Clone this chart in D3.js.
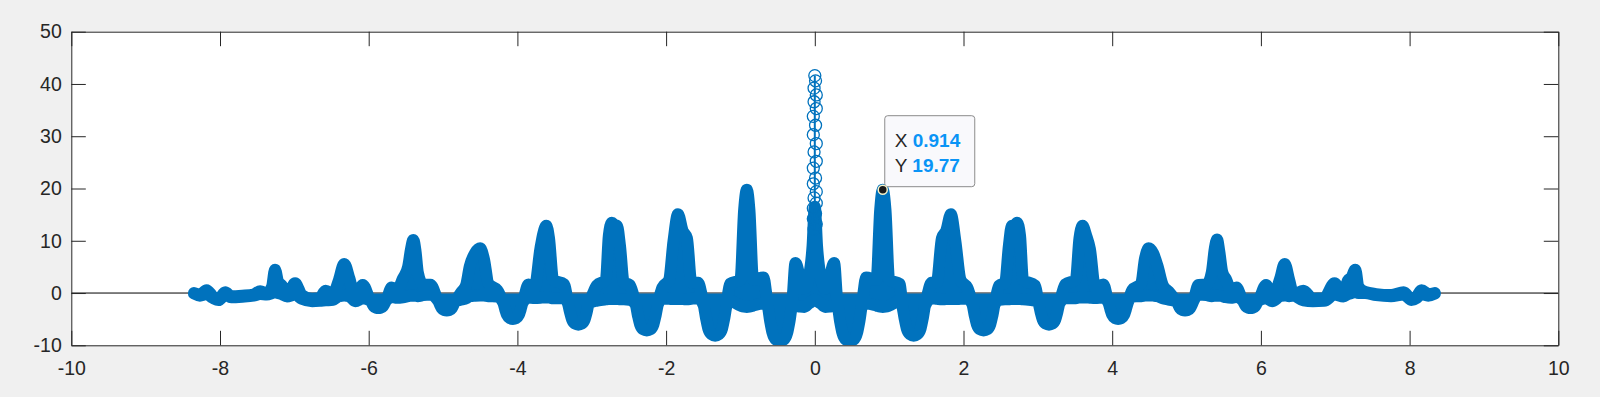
<!DOCTYPE html>
<html>
<head>
<meta charset="utf-8">
<script src="https://cdn.jsdelivr.net/npm/d3@7"></script>
<style>
  body { margin: 0; background: #f0f0f0; }
  svg { display: block; font-family: "Liberation Sans", Arial, Helvetica, sans-serif; }
</style>
</head>
<body>
<div id="chart"></div>
<script>
// tick values
const xTicks = [-10, -8, -6, -4, -2, 0, 2, 4, 6, 8, 10];
const yTicks = [-10, 0, 10, 20, 30, 40, 50];

// envelope of the marker cloud (marker centres).
// one line per stretch of the curve, same count in all three arrays
const knotX = [
  -8.35, -8.27, -8.18, -8.10, -8.02, -7.93, -7.85, -7.70, -7.55, -7.46, -7.37, -7.30, -7.26, -7.22, -7.17, -7.10, -6.99,
  -6.90, -6.76, -6.66, -6.58, -6.48, -6.40, -6.33, -6.26, -6.18, -6.08,
  -5.97, -5.95, -5.93, -5.903, -5.87, -5.837, -5.81, -5.79, -5.77,
  -5.69, -5.62, -5.54, -5.47, -5.43, -5.40, -5.37, -5.34, -5.27, -5.17,
  -5.06, -5.038, -5.016, -4.986, -4.95, -4.914, -4.884, -4.862, -4.84,
  -4.75, -4.69, -4.64, -4.57, -4.50, -4.45, -4.39, -4.27,
  -4.19, -4.164, -4.138, -4.103, -4.06, -4.017, -3.982, -3.956, -3.93,
  -3.85, -3.77, -3.69, -3.65, -3.61, -3.575, -3.52, -3.37,
  -3.32, -3.292, -3.264, -3.226, -3.18, -3.134, -3.096, -3.068, -3.04,
  -2.93, -2.81, -2.77, -2.73, -2.69, -2.66, -2.62, -2.57, -2.49,
  -2.41, -2.38, -2.35, -2.31, -2.26, -2.21, -2.17, -2.14, -2.11,
  -2.05, -1.96, -1.90, -1.84, -1.78, -1.72, -1.66, -1.57,
  -1.495, -1.464, -1.433, -1.389, -1.34, -1.291, -1.247, -1.216, -1.185,
  -1.14, -1.00, -0.95, -0.914, -0.88, -0.83, -0.69,
  -0.635, -0.602, -0.569, -0.524, -0.47, -0.416, -0.371, -0.338, -0.305,
  -0.26, -0.20, -0.14, -0.08, -0.03, 0.00, 0.03, 0.08, 0.14, 0.20, 0.26,
  0.305, 0.338, 0.371, 0.416, 0.47, 0.524, 0.569, 0.602, 0.635,
  0.69, 0.83, 0.88, 0.914, 0.95, 1.00, 1.14,
  1.175, 1.206, 1.237, 1.281, 1.33, 1.379, 1.423, 1.454, 1.485,
  1.57, 1.64, 1.71, 1.77, 1.83, 1.89, 1.96, 2.05,
  2.12, 2.15, 2.18, 2.22, 2.27, 2.32, 2.36, 2.39, 2.42,
  2.48, 2.56, 2.61, 2.65, 2.69, 2.72, 2.76, 2.80, 2.96,
  3.01, 3.038, 3.066, 3.104, 3.15, 3.196, 3.234, 3.262, 3.29,
  3.37, 3.51, 3.56, 3.60, 3.65, 3.70, 3.77, 3.88,
  3.95, 3.976, 4.002, 4.037, 4.08, 4.123, 4.158, 4.184, 4.21,
  4.27, 4.39, 4.44, 4.49, 4.55, 4.61, 4.68, 4.76,
  4.87, 4.892, 4.914, 4.944, 4.98, 5.016, 5.046, 5.068, 5.09,
  5.16, 5.27, 5.34, 5.38, 5.41, 5.44, 5.48, 5.53, 5.60, 5.67,
  5.76, 5.78, 5.80, 5.827, 5.86, 5.893, 5.92, 5.94, 5.96,
  6.07, 6.15, 6.26, 6.32, 6.38, 6.44, 6.57, 6.70, 6.85, 6.99,
  7.11, 7.17, 7.22, 7.27, 7.31, 7.40, 7.55, 7.75, 7.92, 8.03, 8.10, 8.16, 8.25, 8.34
];
const upperY = [
  0.0, -0.3, 0.55, -0.6, -1.2, 0.15, -0.6, -0.5, -0.3, 0.35, -0.1, 1.2, 4.45, 2.2, 1.45, -0.6, 1.85,
  -0.4, -1.1, -1.0, 0.45, -0.2, 2.5, 5.55, 2.8, -1.2, 1.55,
  -1.25, -1.25, -1.25, -1.25, -1.25, -1.25, -1.25, -1.25, -1.25,
  1.05, 0.5, 2.75, 5.0, 8.5, 10.15, 8.0, 4.0, 1.6, 1.6,
  -1.25, -1.25, -1.25, -1.25, -1.25, -1.25, -1.25, -1.25, -1.25,
  0.25, 1.5, 5.15, 7.6, 8.55, 6.5, 1.8, 0.55,
  -1.25, -1.25, -1.25, -1.25, -1.25, -1.25, -1.25, -1.25, -1.25,
  1.65, 1.0, 8.55, 11.5, 12.85, 10.5, 2.5, 1.65,
  -1.25, -1.25, -1.25, -1.25, -1.25, -1.25, -1.25, -1.25, -1.25,
  1.45, 2.5, 11.0, 13.45, 13.0, 12.85, 9.0, 2.0, 1.55,
  -1.25, -1.25, -1.25, -1.25, -1.25, -1.25, -1.25, -1.25, -1.25,
  1.05, 2.5, 10.0, 15.05, 12.0, 10.5, 2.0, 1.95,
  -1.25, -1.25, -1.25, -1.25, -1.25, -1.25, -1.25, -1.25, -1.25,
  1.75, 2.5, 16.0, 19.77, 16.0, 2.5, 2.95,
  -1.25, -1.25, -1.25, -1.25, -1.25, -1.25, -1.25, -1.25, -1.25,
  5.75, 3.0, 0.8, 3.0, 9.0, 16.5, 9.0, 3.0, 0.8, 3.0, 5.75,
  -1.25, -1.25, -1.25, -1.25, -1.25, -1.25, -1.25, -1.25, -1.25,
  2.95, 2.5, 16.0, 19.77, 16.0, 2.5, 1.75,
  -1.25, -1.25, -1.25, -1.25, -1.25, -1.25, -1.25, -1.25, -1.25,
  1.95, 2.0, 10.5, 12.0, 15.05, 10.0, 2.5, 1.05,
  -1.25, -1.25, -1.25, -1.25, -1.25, -1.25, -1.25, -1.25, -1.25,
  1.45, 2.0, 9.0, 12.85, 13.0, 13.45, 11.0, 2.5, 1.45,
  -1.25, -1.25, -1.25, -1.25, -1.25, -1.25, -1.25, -1.25, -1.25,
  1.65, 2.5, 10.5, 12.85, 11.0, 8.45, 1.0, 1.65,
  -1.25, -1.25, -1.25, -1.25, -1.25, -1.25, -1.25, -1.25, -1.25,
  0.55, 1.8, 6.5, 8.55, 7.6, 5.15, 1.5, 0.25,
  -1.25, -1.25, -1.25, -1.25, -1.25, -1.25, -1.25, -1.25, -1.25,
  1.55, 1.6, 4.0, 8.5, 10.25, 8.0, 4.0, 2.65, 0.5, 1.05,
  -1.25, -1.25, -1.25, -1.25, -1.25, -1.25, -1.25, -1.25, -1.25,
  1.55, -1.2, 2.8, 5.55, 2.5, -0.3, 0.45, -1.1, -1.0, 1.85,
  -0.6, 2.35, 3.0, 4.45, 1.2, 0.2, -0.2, -0.4, 0.15, -1.3, -0.6, 0.55, -0.2, 0.0
];
const lowerY = [
  -0.1, -0.5, -0.2, -0.9, -1.35, -0.3, -0.8, -0.7, -0.5, -0.2, -0.3, 0.0, 0.2, 0.0, -0.2, -0.65, -0.3,
  -1.1, -1.55, -1.5, -1.4, -1.3, -0.6, -0.45, -0.6, -1.55, -1.0,
  -1.53, -2.08, -2.54, -2.79, -2.85, -2.79, -2.54, -2.08, -1.53,
  -0.75, -0.9, -0.8, -0.6, -0.5, -0.5, -0.5, -0.6, -0.4, -0.3,
  -1.61, -2.33, -2.94, -3.27, -3.35, -3.27, -2.94, -2.33, -1.61,
  -1.25, -1.0, -0.6, -0.5, -0.45, -0.5, -0.6, -0.65,
  -1.85, -3.13, -4.22, -4.8, -4.95, -4.8, -4.22, -3.13, -1.85,
  -0.85, -0.95, -0.9, -0.85, -0.85, -0.85, -1.0, -1.0,
  -2.01, -3.68, -5.1, -5.86, -6.05, -5.86, -5.1, -3.68, -2.01,
  -1.45, -1.2, -1.15, -1.15, -1.15, -1.15, -1.2, -1.2, -1.3,
  -2.18, -4.23, -5.98, -6.92, -7.15, -6.92, -5.98, -4.23, -2.18,
  -1.05, -1.1, -1.15, -1.15, -1.15, -1.2, -1.1, -1.0,
  -2.33, -4.73, -6.78, -7.88, -8.15, -7.88, -6.78, -4.73, -2.33,
  -1.5, -2.4, -2.6, -2.65, -2.6, -2.4, -2.0,
  -2.5, -5.25, -7.6, -8.9, -9.2, -8.9, -7.6, -5.25, -2.5,
  -2.5, -2.6, -2.65, -2.0, -1.5, -1.2, -1.5, -2.0, -2.65, -2.6, -2.5,
  -2.5, -5.25, -7.6, -8.9, -9.2, -8.9, -7.6, -5.25, -2.5,
  -2.0, -2.4, -2.6, -2.65, -2.6, -2.4, -1.5,
  -2.33, -4.73, -6.78, -7.88, -8.15, -7.88, -6.78, -4.73, -2.33,
  -1.0, -1.1, -1.2, -1.15, -1.15, -1.15, -1.1, -1.05,
  -2.18, -4.23, -5.98, -6.92, -7.15, -6.92, -5.98, -4.23, -2.18,
  -1.3, -1.2, -1.2, -1.15, -1.15, -1.15, -1.15, -1.2, -1.45,
  -2.01, -3.68, -5.1, -5.86, -6.05, -5.86, -5.1, -3.68, -2.01,
  -1.0, -1.0, -0.85, -0.85, -0.85, -0.9, -0.95, -0.85,
  -1.85, -3.13, -4.22, -4.8, -4.95, -4.8, -4.22, -3.13, -1.85,
  -0.65, -0.6, -0.5, -0.45, -0.5, -0.6, -1.0, -1.25,
  -1.61, -2.33, -2.94, -3.27, -3.35, -3.27, -2.94, -2.33, -1.61,
  -0.3, -0.4, -0.6, -0.5, -0.5, -0.5, -0.6, -0.8, -0.9, -0.75,
  -1.53, -2.08, -2.54, -2.79, -2.85, -2.79, -2.54, -2.08, -1.53,
  -1.0, -1.55, -0.6, -0.45, -0.6, -0.5, -1.4, -1.55, -1.5, -0.3,
  -0.65, -0.2, 0.0, 0.2, 0.0, 0.0, -0.4, -0.6, -0.3, -1.35, -0.9, -0.2, -0.5, -0.1
];

// single open circles that climb the central spike
const spikeX = [0.0, 0.01, -0.01, 0.02, -0.01, 0.02, -0.02, 0.01, -0.02, 0.02, -0.01, 0.02,
  -0.02, 0.01, -0.02, 0.02, -0.01, 0.02, -0.02, 0.01, -0.02, 0.02, -0.01];
const spikeY = [41.6, 40.6, 39.2, 37.9, 36.6, 35.3, 33.8, 32.1, 30.3, 28.6, 27.0, 25.2,
  23.9, 22.0, 20.9, 19.4, 18.2, 17.2, 16.2, 15.2, 14.2, 13.2, 12.2];

// data tip
const tipX = 0.914;
const tipY = 19.77;

const width = 1600;
const height = 397;
const margin = { top: 31.7, right: 41.7, bottom: 51.7, left: 71.3 };
const blue = "#0072BD";
const axisColor = "#262626";

const svg = d3.select("#chart")
  .append("svg")
  .attr("width", width)
  .attr("height", height);

const x = d3.scaleLinear()
  .domain([-10, 10])
  .range([margin.left, width - margin.right]);

const y = d3.scaleLinear()
  .domain([-10, 50])
  .range([height - margin.bottom, margin.top]);

// white axes background
svg.append("rect")
  .attr("x", x(-10))
  .attr("y", y(50))
  .attr("width", x(10) - x(-10))
  .attr("height", y(-10) - y(50))
  .attr("fill", "#fff");

svg.append("clipPath")
  .attr("id", "plot-clip")
  .append("rect")
  .attr("x", x(-10))
  .attr("y", y(50))
  .attr("width", x(10) - x(-10))
  .attr("height", y(-10) - y(50));

const plot = svg.append("g").attr("clip-path", "url(#plot-clip)");

// y = 0 reference line
plot.append("line")
  .attr("x1", x(-10))
  .attr("x2", x(10))
  .attr("y1", y(0))
  .attr("y2", y(0))
  .attr("stroke", "#000")
  .attr("stroke-width", 1);

// dense marker cloud drawn as its envelope, stroked with the marker radius
const area = d3.area()
  .x(i => x(knotX[i]))
  .y0(i => y(lowerY[i]))
  .y1(i => y(upperY[i]))
  .curve(d3.curveMonotoneX);

plot.append("path")
  .datum(d3.range(knotX.length))
  .attr("d", area)
  .attr("fill", blue)
  .attr("stroke", blue)
  .attr("stroke-width", 12)
  .attr("stroke-linejoin", "round")
  .attr("stroke-linecap", "round");

// the overlapping circle edges read as a line down the spike
plot.append("line")
  .attr("x1", x(0))
  .attr("x2", x(0))
  .attr("y1", y(d3.min(spikeY)))
  .attr("y2", y(d3.max(spikeY)))
  .attr("stroke", blue)
  .attr("stroke-width", 2);

plot.append("g")
  .selectAll("circle")
  .data(spikeY)
  .join("circle")
    .attr("cx", (d, i) => x(spikeX[i]))
    .attr("cy", d => y(d))
    .attr("r", 6)
    .attr("fill", "none")
    .attr("stroke", blue)
    .attr("stroke-width", 1.3);

// axes (ticks point inwards, box on)
function styleAxis(g) {
  g.attr("font-family", null);
  g.selectAll(".domain").attr("stroke", axisColor);
  g.selectAll(".tick line").attr("stroke", axisColor);
  g.selectAll(".tick text").attr("fill", axisColor).attr("font-size", "19.5px");
}

svg.append("g")
  .attr("transform", `translate(0,${y(-10)})`)
  .call(d3.axisBottom(x).tickValues(xTicks).tickFormat(d => String(d))
    .tickSizeInner(-14.5).tickSizeOuter(0).tickPadding(16))
  .call(styleAxis);

svg.append("g")
  .attr("transform", `translate(0,${y(50)})`)
  .call(d3.axisTop(x).tickValues(xTicks).tickFormat("")
    .tickSizeInner(-14.5).tickSizeOuter(0))
  .call(styleAxis);

svg.append("g")
  .attr("transform", `translate(${x(-10)},0)`)
  .call(d3.axisLeft(y).tickValues(yTicks).tickFormat(d => String(d))
    .tickSizeInner(-14.5).tickSizeOuter(0).tickPadding(9.5))
  .call(styleAxis);

svg.append("g")
  .attr("transform", `translate(${x(10)},0)`)
  .call(d3.axisRight(y).tickValues(yTicks).tickFormat("")
    .tickSizeInner(-14.5).tickSizeOuter(0))
  .call(styleAxis);

// data tip
const tx = x(tipX);
const ty = y(tipY);
const tip = svg.append("g");

tip.append("rect")
  .attr("x", tx + 2)
  .attr("y", ty - 74)
  .attr("width", 90)
  .attr("height", 71)
  .attr("rx", 3)
  .attr("fill", "#f9f9fc")
  .attr("stroke", "#8c8c8c")
  .attr("stroke-width", 1);

const rows = [["X", "0.914"], ["Y", "19.77"]];
rows.forEach((r, i) => {
  const t = tip.append("text")
    .attr("x", tx + 12)
    .attr("y", ty - 43 + i * 25)
    .attr("font-size", "19px");
  t.append("tspan").attr("fill", axisColor).text(r[0] + " ");
  t.append("tspan").attr("fill", "#0a94f6").attr("font-weight", "bold").text(r[1]);
});

tip.append("circle")
  .attr("cx", tx)
  .attr("cy", ty)
  .attr("r", 4.5)
  .attr("fill", "#1a1a1a")
  .attr("stroke", "#f5f2c8")
  .attr("stroke-width", 1.5);
</script>
</body>
</html>
